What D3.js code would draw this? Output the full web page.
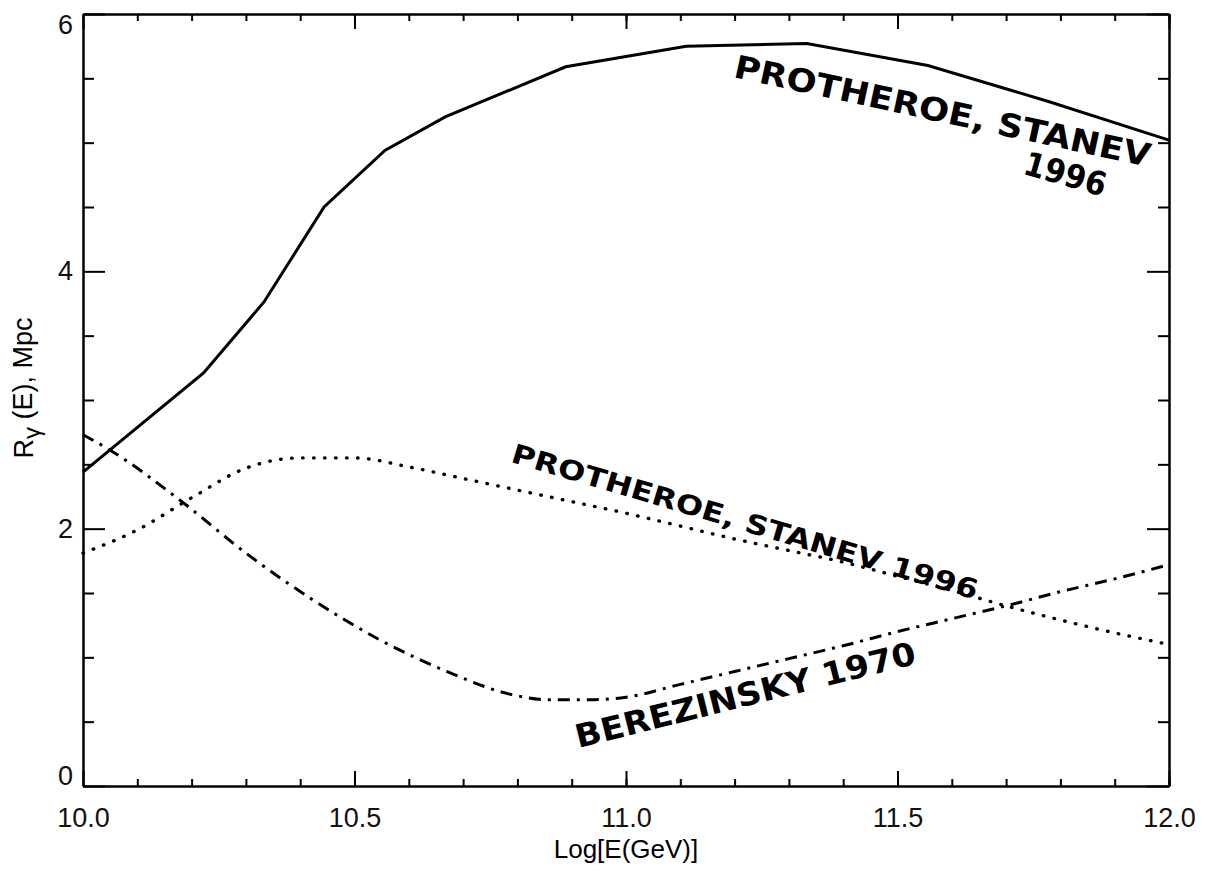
<!DOCTYPE html>
<html lang="en">
  <head>
    <meta charset="UTF-8" />
    <title>R gamma vs log E</title>
    <script src="https://d3js.org/d3.v7.min.js"></script>
    <style>
      html,
      body {
        margin: 0;
        padding: 0;
        background-color: #fff;
      }
      .axis text {
        font-family: "Liberation Sans", Arial, sans-serif;
        font-size: 27px;
        fill: #111;
      }
      .axis line,
      .axis path {
        stroke: #000;
        stroke-width: 2px;
      }
      .hand {
        font-family: "DejaVu Sans", sans-serif;
        font-weight: bold;
        fill: #000;
      }
    </style>
  </head>
  <body>
    <svg id="chart"></svg>
    <script>
      // Solid curve (Protheroe & Stanev 1996, upper)
      const solidX = [10.0, 10.222, 10.333, 10.444, 10.556, 10.667, 10.889, 11.111, 11.333, 11.556, 11.778, 12.0];
      const solidY = [2.44, 3.21, 3.76, 4.5, 4.94, 5.2, 5.59, 5.75, 5.77, 5.6, 5.32, 5.02];

      // Dotted curve (Protheroe & Stanev 1996, lower)
      const dotX = [10.0, 10.1, 10.2, 10.3, 10.4, 10.5, 10.6, 10.7, 10.8, 10.9, 11.0, 11.1, 11.2, 11.3, 11.4, 11.5, 11.6, 11.7, 11.8, 11.9, 12.0];
      const dotY = [1.81, 1.99, 2.24, 2.47, 2.55, 2.55, 2.48, 2.39, 2.3, 2.21, 2.12, 2.02, 1.92, 1.83, 1.74, 1.63, 1.52, 1.4, 1.29, 1.19, 1.1];

      // Dash-dot curve (Berezinsky 1970)
      const dashX = [10.0, 10.05, 10.185, 10.3, 10.424, 10.547, 10.67, 10.79, 10.86, 10.93, 11.0, 11.1, 11.2, 11.3, 11.4, 11.5, 11.6, 11.7, 11.8, 11.9, 12.0];
      const dashY = [2.73, 2.61, 2.2, 1.81, 1.445, 1.135, 0.89, 0.71, 0.67, 0.67, 0.69, 0.79, 0.89, 0.99, 1.09, 1.2, 1.3, 1.4, 1.51, 1.61, 1.72];

      const xMajor = [10.0, 10.5, 11.0, 11.5, 12.0];
      const xMinor = d3.range(10.1, 12.0, 0.1);
      const yMajor = [0, 2, 4, 6];
      const yMinor = [0.5, 1, 1.5, 2.5, 3, 3.5, 4.5, 5, 5.5];

      const margin = { top: 14, right: 39, bottom: 85, left: 83 };
      const width = 1086;
      const height = 772;

      const svg = d3
        .select("#chart")
        .attr("width", width + margin.left + margin.right)
        .attr("height", height + margin.top + margin.bottom)
        .append("g")
        .attr("transform", `translate(${margin.left},${margin.top})`);

      const x = d3.scaleLinear().domain([10, 12]).range([0, width]);
      const y = d3.scaleLinear().domain([0, 6]).range([height, 0]);

      // bottom axis
      svg
        .append("g")
        .attr("class", "axis")
        .attr("transform", `translate(0,${height})`)
        .call(d3.axisBottom(x).tickValues(xMinor).tickSize(-7).tickSizeOuter(0).tickFormat(""));
      svg
        .append("g")
        .attr("class", "axis")
        .attr("transform", `translate(0,${height})`)
        .call(d3.axisBottom(x).tickValues(xMajor).tickSize(-15).tickSizeOuter(0).tickPadding(22).tickFormat(d3.format(".1f")));

      // top axis
      svg
        .append("g")
        .attr("class", "axis")
        .call(d3.axisTop(x).tickValues(xMinor).tickSize(-7).tickSizeOuter(0).tickFormat(""));
      svg
        .append("g")
        .attr("class", "axis")
        .call(d3.axisTop(x).tickValues(xMajor).tickSize(-15).tickSizeOuter(0).tickFormat(""));

      // left axis
      svg
        .append("g")
        .attr("class", "axis")
        .call(d3.axisLeft(y).tickValues(yMinor).tickSize(-11).tickSizeOuter(0).tickFormat(""));
      const yAxis = svg
        .append("g")
        .attr("class", "axis")
        .call(d3.axisLeft(y).tickValues(yMajor).tickSize(-22).tickSizeOuter(0).tickPadding(10).tickFormat(d3.format("d")));
      // end labels pushed inside, like the original
      yAxis.selectAll(".tick text").attr("dy", (d) => (d === 0 ? "-0.05em" : d === 6 ? "0.72em" : "0.32em"));

      // right axis
      svg
        .append("g")
        .attr("class", "axis")
        .attr("transform", `translate(${width},0)`)
        .call(d3.axisRight(y).tickValues(yMinor).tickSize(-11).tickSizeOuter(0).tickFormat(""));
      svg
        .append("g")
        .attr("class", "axis")
        .attr("transform", `translate(${width},0)`)
        .call(d3.axisRight(y).tickValues(yMajor).tickSize(-22).tickSizeOuter(0).tickFormat(""));

      // axis titles
      svg
        .append("text")
        .attr("x", width / 2)
        .attr("y", height + 72)
        .attr("text-anchor", "middle")
        .style("font-family", "Liberation Sans, Arial, sans-serif")
        .style("font-size", "26px")
        .text("Log[E(GeV)]");

      const yTitle = svg
        .append("text")
        .attr("transform", `translate(${-50},${y(3) - 12}) rotate(-90)`)
        .attr("text-anchor", "middle")
        .style("font-family", "Liberation Sans, Arial, sans-serif")
        .style("font-size", "27px");
      yTitle.append("tspan").text("R");
      yTitle.append("tspan").attr("dy", "0.3em").style("font-size", "24px").text("γ");
      yTitle.append("tspan").attr("dy", "-0.3em").text("  (E), Mpc");

      // curves
      const line = d3
        .line()
        .x((d) => x(d[0]))
        .y((d) => y(d[1]));

      svg
        .append("path")
        .datum(d3.zip(solidX, solidY))
        .attr("fill", "none")
        .attr("stroke", "#000")
        .attr("stroke-width", 3)
        .attr("d", line);

      svg
        .append("path")
        .datum(d3.zip(dotX, dotY))
        .attr("fill", "none")
        .attr("stroke", "#000")
        .attr("stroke-width", 3.4)
        .attr("stroke-linecap", "round")
        .attr("stroke-dasharray", "0.5,10.5")
        .attr("d", line.curve(d3.curveMonotoneX));

      svg
        .append("path")
        .datum(d3.zip(dashX, dashY))
        .attr("fill", "none")
        .attr("stroke", "#000")
        .attr("stroke-width", 3)
        .attr("stroke-dasharray", "12,7,3,7")
        .attr("d", line.curve(d3.curveMonotoneX));

      // hand-written labels
      const notes = [
        { text: "PROTHEROE, STANEV", x: 11.196, y: 5.51, angle: 12.2, size: 32, len: 425 },
        { text: "1996", x: 11.729, y: 4.76, angle: 16, size: 33, len: 84 },
        { text: "PROTHEROE, STANEV 1996", x: 10.786, y: 2.52, angle: 16.5, size: 27, len: 485 },
        { text: "BEREZINSKY 1970", x: 10.912, y: 0.295, angle: -14, size: 32, len: 350 },
      ];

      svg
        .selectAll(".hand")
        .data(notes)
        .enter()
        .append("text")
        .attr("class", "hand")
        .attr("transform", (d) => `translate(${x(d.x)},${y(d.y)}) rotate(${d.angle})`)
        .attr("textLength", (d) => d.len)
        .attr("lengthAdjust", "spacingAndGlyphs")
        .style("font-size", (d) => d.size + "px")
        .text((d) => d.text);
    </script>
  </body>
</html>
